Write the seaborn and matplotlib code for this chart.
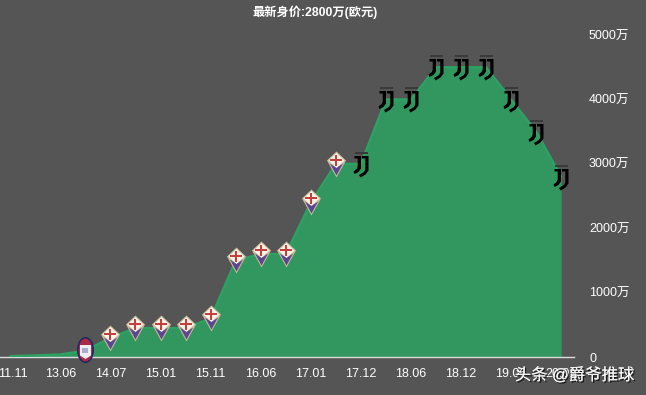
import numpy as np
import pandas as pd
import matplotlib
matplotlib.use('Agg')
import matplotlib.pyplot as plt
import matplotlib.patheffects as pe
from matplotlib.path import Path
from matplotlib.transforms import Affine2D, ScaledTranslation
import seaborn as sns

# market value, one point per half season
values = [15, 25, 40, 100, 300, 450, 450, 450, 600, 1500, 1600, 1600, 2400,
          3000, 3000, 4000, 4000, 4500, 4500, 4500, 4000, 3500, 2800]
tick_labels = ['11.11', '13.06', '14.07', '15.01', '15.11', '16.06', '17.01',
               '17.12', '18.06', '18.12', '19.06', '20.01']
y_ticks = [0, 1000, 2000, 3000, 4000, 5000]
y_labels = ['0', '1000万', '2000万', '3000万', '4000万', '5000万']
crotone_points = [3]
fiorentina_points = [4, 5, 6, 7, 8, 9, 10, 11, 12, 13]
juventus_points = [14, 15, 16, 17, 18, 19, 20, 21, 22]

BG = '#555555'
FONT = ['Liberation Sans', 'Noto Sans CJK SC', 'DejaVu Sans']

sns.set_style('dark', {'axes.facecolor': BG, 'figure.facecolor': BG})
plt.rcParams['font.family'] = FONT

df = pd.DataFrame({'idx': np.arange(len(values)), 'value': values})

fig = plt.figure(figsize=(6.46, 3.95), dpi=100)
ax = fig.add_axes([0, 38 / 395, 574 / 646, 322 / 395])

ax.fill_between(df['idx'], df['value'], color='#32965f', lw=0, zorder=2)
sns.lineplot(data=df, x='idx', y='value', color='#2ba463', lw=1.6, ax=ax, zorder=3)

ax.set_xlim(-0.41, 22.51)
ax.set_ylim(0, 5000)
ax.set_xlabel('')
ax.set_ylabel('')
ax.set_xticks(np.arange(0, len(values), 2))
ax.set_xticklabels(tick_labels, color='white', fontsize=9)
ax.yaxis.tick_right()
ax.set_yticks(y_ticks)
ax.set_yticklabels(y_labels, color='white', fontsize=9, ha='left')
ax.tick_params(axis='x', length=0, pad=8)
ax.tick_params(axis='y', length=0, pad=10.8)
ax.grid(False)
for s in ['top', 'left', 'right']:
    ax.spines[s].set_visible(False)
ax.spines['bottom'].set_color('#dddddd')
ax.spines['bottom'].set_linewidth(1)

# first label is pushed right so it stays on the canvas
first = ax.get_xticklabels()[0]
first.set_transform(first.get_transform() + ScaledTranslation(3 / 100, 0, fig.dpi_scale_trans))


def stamp(points, verts, color):
    # custom markers get normalised, so work out s to keep the shape in pixels
    path = verts if isinstance(verts, Path) else Path(verts)
    r = np.abs(path.vertices).max()
    size = (2 * r * 0.72) ** 2
    ax.scatter(df['idx'].iloc[points], df['value'].iloc[points], marker=path, s=size,
               color=color, linewidths=0, zorder=6, clip_on=False)


def oval(cx, cy, w, h):
    return Path.unit_circle().transformed(Affine2D().scale(w, h).translate(cx, cy))


# fiorentina badge
stamp(fiorentina_points, [(0, 13), (9.5, 4), (0, -13), (-9.5, 4), (0, 13)], '#c9bc9c')
stamp(fiorentina_points, [(0, 11.5), (8, 4), (0, -3.5), (-8, 4), (0, 11.5)], '#fbf3e8')
stamp(fiorentina_points, [(-6.5, 1), (0, -3.5), (6.5, 1), (0, -11), (-6.5, 1)], '#5d4591')
stamp(fiorentina_points, [(-1.2, 9.5), (1.2, 9.5), (1.2, 5.2), (6, 5.2), (6, 2.8), (1.2, 2.8),
                          (1.2, -1.5), (-1.2, -1.5), (-1.2, 2.8), (-6, 2.8), (-6, 5.2),
                          (-1.2, 5.2), (-1.2, 9.5)], '#c73f3c')

# crotone badge
stamp(crotone_points, oval(0, 1.5, 8.5, 13), '#1d2466')
stamp(crotone_points, oval(0, 1.5, 7, 11.5), '#a82a45')
stamp(crotone_points, [(-5.5, 6.5), (5.5, 6.5), (5.5, -4), (0, -7.5), (-5.5, -4), (-5.5, 6.5)], '#eceef4')
stamp(crotone_points, [(-3, 3.5), (3, 3.5), (3, -2), (-3, -2), (-3, 3.5)], '#a9aec8')

# juventus badge
stamp(juventus_points, [(-6.5, 12.5), (6.5, 12.5), (6.5, 10), (-6.5, 10), (-6.5, 12.5)], '#3a3a3a')
stamp(juventus_points, [(-7, 8.5), (-0.5, 8.5), (-0.5, -4), (-3, -7.5), (-7, -9.5), (-8, -7), (-4.8, -4.5),
                        (-3.8, -2), (-3.8, 6), (-7, 6), (-7, 8.5)], '#000000')
stamp(juventus_points, [(0.5, 8.5), (7, 8.5), (7, -6), (4, -10), (-1, -13), (-2.5, -10.5),
                        (2.5, -7.5), (3.8, -5), (3.8, 6), (0.5, 6), (0.5, 8.5)], '#000000')

fig.text(315 / 646, 1 - 12.5 / 395, '最新身价:2800万(欧元)', color='white', fontsize=8.8,
         fontweight='bold', ha='center', va='center')

wm = fig.text(574.5 / 646, 1 - 375 / 395, '头条 @爵爷推球', color='#f4f4f4', fontsize=11.8,
              ha='center', va='center', zorder=10)
wm.set_path_effects([pe.withSimplePatchShadow(offset=(1, -1), shadow_rgbFace='#111111', alpha=0.9),
                     pe.Normal()])

fig.savefig('out.png', dpi=100, facecolor=BG)
